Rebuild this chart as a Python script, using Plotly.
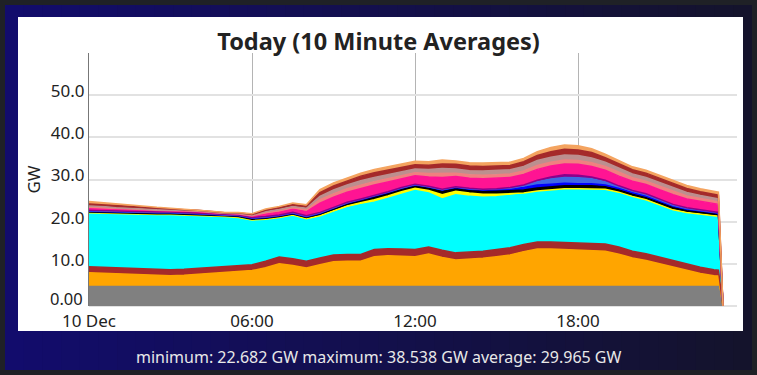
import pandas as pd
import plotly.graph_objects as go

# ---------------- data (GW), half-hourly from 00:00 to 23:00, then 23:10 and 23:20 ----------------
times = list(pd.date_range("2023-12-10 00:00", periods=47, freq="30min")) + [
    pd.Timestamp("2023-12-10 23:10"), pd.Timestamp("2023-12-10 23:20")]

grey = [4.6] * 48 + [0]
orange = [3.3, 3.2, 3.1, 3.0, 2.8, 2.7, 2.6, 2.7, 2.9, 3.1, 3.3, 3.5, 3.8,
          4.5, 5.4, 5.0, 4.4, 5.2, 5.9, 6.0, 6.0, 7.1, 7.3, 7.2, 7.1, 7.7,
          6.9, 6.3, 6.5, 6.7, 7.1, 7.5, 8.3, 8.9, 8.9, 8.8, 8.7, 8.6, 8.4,
          7.7, 6.8, 6.2, 5.4, 4.6, 3.9, 3.1, 2.6, 2.5, 0]
biomass = [1.4] * 13 + [1.5] + [1.6] * 7 + [1.7] * 19 + [1.6] * 4 + [1.5] * 2 + [1.4] * 2 + [0]
wind = [12.8, 12.8, 12.8, 12.9, 13.0, 13.0, 13.1, 12.9, 12.6, 12.2, 11.9, 11.5, 10.6,
        10.0, 9.4, 10.4, 10.0, 9.8, 10.1, 11.1, 11.8, 11.2, 11.9, 13.0, 14.0, 12.8,
        12.2, 13.8, 13.2, 12.8, 12.5, 12.4, 12.0, 12.0, 12.4, 12.7, 12.8, 12.9, 13.0,
        13.0, 13.0, 12.8, 12.4, 12.0, 12.2, 12.6, 12.8, 12.8, 0]
solar = [0] * 16 + [0.1, 0.2, 0.3, 0.4, 0.5, 0.6, 0.6, 0.6, 0.5, 0.6, 1.0, 0.8, 0.8,
                    0.7, 0.6, 0.4, 0.2, 0.1] + [0] * 15
coal = [0.2] * 16 + [0.3, 0.4, 0.5, 0.5, 0.5, 0.6, 0.6, 0.6, 0.6, 0.6, 0.8, 0.7, 0.7,
                     0.7, 0.7, 0.7, 0.7, 0.7, 0.7, 0.7, 0.7, 0.7, 0.6, 0.5, 0.5, 0.5,
                     0.5, 0.5, 0.4, 0.4, 0.4, 0.4, 0]
hydro = [0.2, 0.2, 0.2, 0.2, 0.2, 0.2, 0.2, 0.2, 0.2, 0.2, 0.1, 0.2, 0.2,
         0.2, 0.2, 0.2, 0.2, 0.2, 0.2, 0.2, 0.2, 0.2, 0.2, 0.2, 0.2, 0.2,
         0.3, 0.2, 0.2, 0.3, 0.4, 0.5, 0.6, 0.7, 0.6, 0.6, 0.5, 0.5, 0.4,
         0.4, 0.4, 0.4, 0.4, 0.4, 0.4, 0.4, 0.3, 0.3, 0]
pumped = [0.1] * 31 + [0.1, 0.4, 0.8, 1.2, 1.4, 1.4, 1.2, 0.8, 0.4, 0.3, 0.3, 0.2,
                       0.2, 0.1, 0.1, 0.1, 0.1, 0]
other = [0.1] * 31 + [0.2, 0.2, 0.3, 0.5, 0.6, 0.6, 0.4, 0.3, 0.2, 0.2, 0.2, 0.2,
                      0.2, 0.2, 0.1, 0.1, 0.1, 0]
ic_a = [0.4, 0.4, 0.4, 0.3, 0.3, 0.3, 0.3, 0.3, 0.3, 0.2, 0.2, 0.2, 0.3,
        0.6, 0.7, 0.8, 1.0, 2.2, 2.4, 2.4, 2.5, 2.5, 2.3, 2.1, 2.0, 2.2,
        2.8, 2.4, 2.4, 2.5, 2.5, 2.4, 2.5, 2.6, 2.6, 2.6, 2.6, 2.5, 2.4,
        2.3, 2.2, 2.2, 2.3, 2.3, 2.1, 2.0, 1.9, 1.9, 0]
ic_b = [0.3, 0.3, 0.2, 0.2, 0.2, 0.1, 0.1, 0.1, 0.1, 0.1, 0.1, 0.1, 0.1,
        0.3, 0.3, 0.3, 0.4, 0.8, 0.8, 0.8, 0.8, 0.8, 0.8, 0.7, 0.7, 0.8,
        0.9, 0.8, 0.8, 0.8, 0.8, 0.8, 0.8, 0.9, 0.9, 0.9, 0.9, 0.9, 0.9,
        0.9, 0.8, 0.8, 0.8, 0.8, 0.7, 0.7, 0.7, 0.6, 0]
ic_c = [0.3, 0.3, 0.2, 0.2, 0.1, 0.1, 0.1, 0.1, 0.1, 0.1, 0.0, 0.1, 0.1,
        0.3, 0.3, 0.3, 0.4, 0.8, 0.9, 0.9, 1.0, 1.0, 1.0, 0.9, 0.9, 1.0,
        1.2, 1.0, 1.0, 1.0, 1.0, 1.0, 1.1, 1.2, 1.2, 1.2, 1.2, 1.1, 1.0,
        1.0, 0.9, 0.9, 0.9, 0.9, 0.8, 0.7, 0.7, 0.7, 0]
ic_d = [0.5, 0.4, 0.4, 0.3, 0.3, 0.3, 0.2, 0.1, 0.1, 0.1, 0.1, 0.1, 0.2,
        0.3, 0.4, 0.4, 0.4, 0.9, 1.0, 1.0, 1.1, 1.1, 1.0, 1.0, 1.0, 1.0,
        1.1, 1.1, 1.1, 1.1, 1.1, 1.0, 1.1, 1.2, 1.3, 1.4, 1.3, 1.3, 1.1,
        1.0, 1.0, 1.0, 1.0, 1.0, 1.0, 0.9, 0.9, 0.9, 0]
ic_e = [0.6, 0.5, 0.5, 0.4, 0.3, 0.3, 0.2, 0.2, 0.1, 0.1, 0.1, 0.1, 0.2,
        0.3, 0.3, 0.4, 0.4, 0.7, 0.7, 0.7, 0.7, 0.8, 0.8, 0.8, 0.8, 0.8,
        0.9, 0.8, 0.8, 0.8, 0.8, 0.8, 0.8, 0.9, 1.0, 1.0, 1.0, 0.9, 0.8,
        0.8, 0.7, 0.7, 0.7, 0.7, 0.7, 0.7, 0.7, 0.7, 0]

series = [
    ("Nuclear", grey, "#808080"),
    ("Gas", orange, "#FFA500"),
    ("Biomass", biomass, "#A52A2A"),
    ("Wind", wind, "#00FFFF"),
    ("Solar", solar, "#FFFF00"),
    ("Coal", coal, "#000000"),
    ("Hydro", hydro, "#0000FF"),
    ("Pumped", pumped, "#4169E1"),
    ("Other", other, "#8B008B"),
    ("IC 1", ic_a, "#FF1493"),
    ("IC 2", ic_b, "#F08080"),
    ("IC 3", ic_c, "#BC8F8F"),
    ("IC 4", ic_d, "#A52A2A"),
    ("IC 5", ic_e, "#F4A460"),
]

y_tickvals = [10, 20, 30, 40, 50]
y_ticktext = ["10.0", "20.0", "30.0", "40.0", "50.0"]
y_zero_label = "0.00"
x_tickvals = ["2023-12-10 00:00", "2023-12-10 06:00", "2023-12-10 12:00", "2023-12-10 18:00"]
x_ticktext = ["10 Dec", "06:00", "12:00", "18:00"]
title_text = "Today (10 Minute Averages)"
stats_text = "minimum: 22.682 GW maximum: 38.538 GW average: 29.965 GW"

# ---------------- figure ----------------
W, H = 757, 375
L, R, T, B = 89, 20, 53, 69
pw, ph = W - L - R, H - T - B


def px(x):
    return (x - L) / pw


def py(y):
    return (H - B - y) / ph


fig = go.Figure()
for name, vals, col in series:
    fig.add_trace(go.Scatter(
        x=times, y=vals, name=name, stackgroup="one", mode="lines",
        line=dict(color=col, width=1.5), fillcolor=col, hoverinfo="skip"))

shapes = []
# outer dark border
shapes.append(dict(type="rect", xref="paper", yref="paper", x0=px(0), x1=px(W), y0=py(0), y1=py(H),
                   fillcolor="#1f2126", line=dict(width=0), layer="below"))
# navy gradient strips
n = 40
c0 = (18, 12, 108)
c1 = (20, 19, 44)
x_left, x_right = 5, 752
for i in range(n):
    t = i / (n - 1)
    c = tuple(int(round(c0[k] + (c1[k] - c0[k]) * t)) for k in range(3))
    xa = x_left + (x_right - x_left) * i / n
    xb = x_left + (x_right - x_left) * (i + 1) / n + 0.6
    shapes.append(dict(type="rect", xref="paper", yref="paper", x0=px(xa), x1=px(min(xb, x_right)),
                       y0=py(5), y1=py(370), fillcolor="rgb(%d,%d,%d)" % c,
                       line=dict(width=0), layer="below"))
# white panel
shapes.append(dict(type="rect", xref="paper", yref="paper", x0=px(18), x1=px(743), y0=py(17), y1=py(331),
                   fillcolor="white", line=dict(width=0), layer="below"))

fig.update_layout(
    width=W, height=H,
    margin=dict(l=L, r=R, t=T, b=B, autoexpand=False),
    paper_bgcolor="#1f2126",
    plot_bgcolor="rgba(0,0,0,0)",
    showlegend=False,
    shapes=shapes,
    title=dict(text="<b>" + title_text + "</b>", x=0.5, xref="container", xanchor="center",
               y=1 - 42 / H, yref="container", yanchor="middle",
               font=dict(family="Noto Sans", size=23.5, color="#222222")),
    font=dict(family="Noto Sans", color="#222222"),
    annotations=[
        dict(text=stats_text, xref="paper", yref="paper", x=px(378), y=py(357),
             xanchor="center", yanchor="middle", showarrow=False,
             font=dict(family="Noto Sans", size=16, color="#e8e8e8")),
        dict(text=y_zero_label, xref="paper", yref="paper", x=px(85), y=py(298.5),
             xanchor="right", yanchor="middle", showarrow=False,
             font=dict(family="Noto Sans", size=16.5, color="#222222")),
    ],
)
fig.update_xaxes(
    type="date", range=["2023-12-10 00:00", "2023-12-10 23:51"],
    tickvals=x_tickvals, ticktext=x_ticktext, tickfont=dict(size=17, color="#222222"),
    showgrid=True, gridcolor="#b4b4b4", gridwidth=1, showline=False, zeroline=False, ticks="",
    ticklabelstandoff=3, automargin=False,
)
fig.update_yaxes(
    range=[0, 60], tickvals=y_tickvals, ticktext=y_ticktext, tickfont=dict(size=17, color="#222222"),
    showgrid=True, gridcolor="#e2e2e2", gridwidth=1.5, zeroline=True, zerolinecolor="#e2e2e2",
    showline=True, linecolor="#777777", linewidth=1, ticks="", ticklabelshift=-4,
    title=dict(text="GW", font=dict(size=17, color="#222222"), standoff=5),
    automargin=False,
)

fig.write_html("out.html", config={"displayModeBar": False},
               post_script="document.body.style.margin='0px';")
